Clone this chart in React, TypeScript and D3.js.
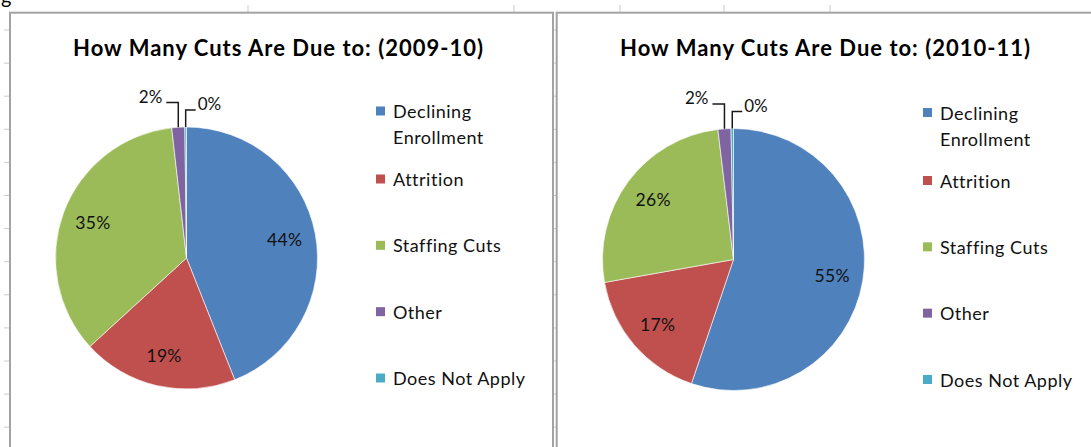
import React from "react";
import * as d3 from "d3";

const categories = ["Declining Enrollment", "Attrition", "Staffing Cuts", "Other", "Does Not Apply"];
const values2009 = [44.0, 19.2, 35.0, 1.6, 0.2];
const values2010 = [55.2, 17.0, 25.9, 1.6, 0.3];
const titles = ["How Many Cuts Are Due to: (2009-10)", "How Many Cuts Are Due to: (2010-11)"];
const colors = ["#4F81BD", "#C0504D", "#9BBB59", "#8064A2", "#4BACC6"];

const W = 1091;
const H = 447;
const FONT = "Lato, 'Open Sans', sans-serif";

const panels = [
  { x: 10, cx: 186.5, cy: 258, values: values2009, title: titles[0], legendDy: 0 },
  { x: 556.5, cx: 733.5, cy: 259.5, values: values2010, title: titles[1], legendDy: 1.5 },
];

const R = 131;
const gridY = d3.range(13).map((i) => 30 + i * 33.1);
const topTicks = [248, 514, 620, 724, 830];

function wrap(label: string): string[] {
  if (label.length <= 15) return [label];
  const i = label.indexOf(" ");
  return [label.slice(0, i), label.slice(i + 1)];
}

function Panel({ p }: { p: (typeof panels)[number] }) {
  const pie = d3
    .pie<number>()
    .sort(null)
    .value((d) => d)
    .startAngle(0)
    .endAngle(2 * Math.PI);
  const arcs = pie(p.values);
  const arc = d3.arc<d3.PieArcDatum<number>>().innerRadius(0).outerRadius(R);
  const labelArc = d3.arc<d3.PieArcDatum<number>>().innerRadius(100).outerRadius(100);
  const total = d3.sum(p.values);
  const pct = (v: number) => `${Math.round((v / total) * 100)}%`;

  const legendY = d3.scaleLinear().domain([1, 4]).range([179, 378]);

  const small = arcs.filter((a) => a.data / total < 0.05);

  return (
    <g>
      <text
        x={p.cx + 92}
        y={47}
        textAnchor="middle"
        dominantBaseline="central"
        fontFamily={FONT}
        fontWeight="bold"
        fontSize={22}
        letterSpacing={1}
        fill="#000"
      >
        {p.title}
      </text>
      <g transform={`translate(${p.cx},${p.cy})`}>
        {arcs.map((a, i) => (
          <path key={i} d={arc(a) || ""} fill={colors[i]} stroke="#fff" strokeWidth={0.6} />
        ))}
        {arcs.map((a, i) => {
          if (a.data / total < 0.05) return null;
          const [lx, ly] = labelArc.centroid(a);
          return (
            <text
              key={i}
              x={lx}
              y={ly}
              textAnchor="middle"
              dominantBaseline="central"
              fontFamily={FONT}
              fontSize={17.5}
              letterSpacing={0.3}
              fill="#111"
            >
              {pct(a.data)}
            </text>
          );
        })}
        {small.map((a, k) => {
          const mid = (a.startAngle + a.endAngle) / 2;
          const ex = R * Math.sin(mid);
          const ey = -R * Math.cos(mid);
          const isLeft = k === 0;
          const elbowY = isLeft ? -R - 24.5 : -R - 17;
          const hx = isLeft ? ex - 12 : ex + 10;
          return (
            <g key={`s${k}`}>
              <polyline
                points={`${ex},${ey} ${ex},${elbowY} ${hx},${elbowY}`}
                fill="none"
                stroke="#1a1a1a"
                strokeWidth={1.5}
              />
              <text
                x={isLeft ? hx - 4 : hx + 2}
                y={elbowY}
                textAnchor={isLeft ? "end" : "start"}
                fontFamily={FONT}
                fontSize={17}
                fill="#111"
              >
                {pct(a.data)}
              </text>
            </g>
          );
        })}
      </g>
      <g transform={`translate(${p.cx + 189.5},0)`}>
        {categories.map((c, i) => {
          const lines = wrap(c);
          const y0 = (i === 0 ? 111 : legendY(i)) + p.legendDy;
          return (
            <g key={c}>
              <rect x={0} y={y0 - 4.5} width={9} height={9} fill={colors[i]} />
              {lines.map((ln, j) => (
                <text
                  key={j}
                  x={17}
                  y={y0 + j * 26}
                  dominantBaseline="central"
                  fontFamily={FONT}
                  fontSize={18}
                  letterSpacing={0.5}
                  fill="#111"
                >
                  {ln}
                </text>
              ))}
            </g>
          );
        })}
      </g>
    </g>
  );
}

export default function App() {
  return (
    <svg
      width={W}
      height={H}
      style={{ position: "absolute", left: 0, top: 0, display: "block", background: "#fff" }}
    >
      <rect x={0} y={0} width={W} height={H} fill="#fff" />
      <text x={1} y={4} fontFamily={FONT} fontSize={20} fill="#000">
        g
      </text>
      {gridY.map((y, i) => (
        <g key={i}>
          <line x1={4} x2={10} y1={y} y2={y} stroke="#c8cad6" strokeWidth={1} />
          <line x1={553} x2={557} y1={y} y2={y} stroke="#c8cad6" strokeWidth={1} />
        </g>
      ))}
      {topTicks.map((x, i) => (
        <line key={i} x1={x} x2={x} y1={5} y2={12} stroke="#c8cad6" strokeWidth={1} />
      ))}
      <rect x={10} y={12.7} width={543} height={H} fill="#fff" stroke="#a3a3a3" strokeWidth={2} />
      <rect x={556.7} y={12.7} width={W} height={H} fill="#fff" stroke="#a3a3a3" strokeWidth={2} />
      {panels.map((p, i) => (
        <Panel key={i} p={p} />
      ))}
    </svg>
  );
}
